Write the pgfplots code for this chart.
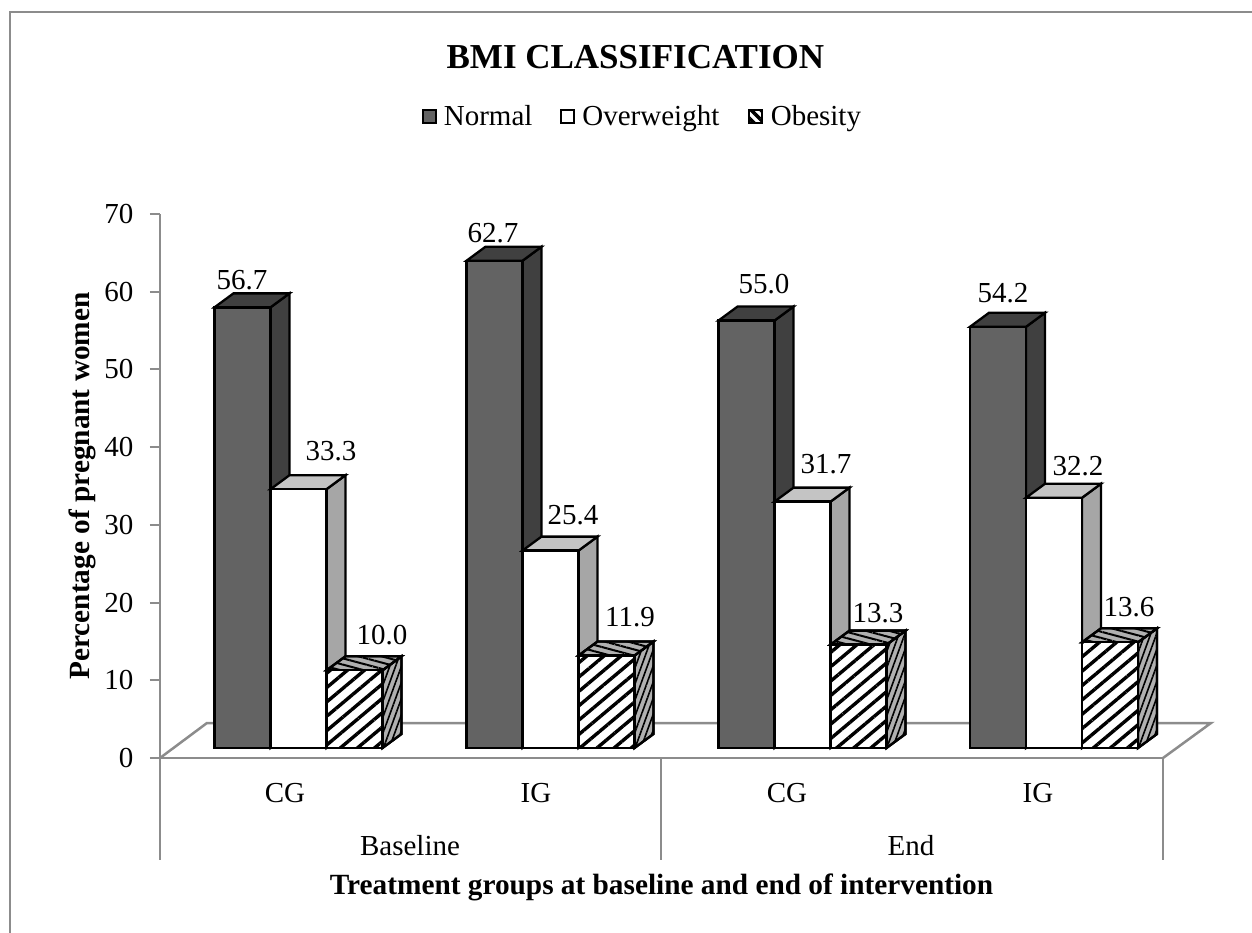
\documentclass[border=0pt]{standalone}
\usepackage{fontspec}
\setmainfont{Liberation Serif}
\usepackage{pgfplots}
\usepackage{pgfplotstable}
\pgfplotsset{compat=1.18}
\usetikzlibrary{patterns.meta}

\definecolor{axisgray}{HTML}{8C8C8C}
\definecolor{normalfront}{HTML}{636363}
\definecolor{normalside}{HTML}{404040}
\definecolor{oversideC}{HTML}{A6A6A6}
\definecolor{overtopC}{HTML}{C4C4C4}
\definecolor{obesegray}{HTML}{B0B0B0}

\newcommand{\lbl}{\fontsize{29}{33}\selectfont}

% x = centre of each group of bars, in px of the reference
\pgfplotstableread{
x y
298.5 56.7
550.5 62.7
802.5 55.0
1054 54.2
}\normaltab
\pgfplotstableread{
x y
298.5 33.3
550.5 25.4
802.5 31.7
1054 32.2
}\overtab
\pgfplotstableread{
x y
298.5 10.0
550.5 11.9
802.5 13.3
1054 13.6
}\obesetab

% 3D look: bars stand 10px above the axis, depth 19px right and 14px up
\pgfmathsetmacro\pxy{544/70}
\pgfmathsetmacro\base{10/\pxy}
\pgfmathsetmacro\depth{14/\pxy}

\newcommand{\barfaces}[4]{%
  \pgfplotsforeachungrouped \r in {0,1,2,3}{%
    \pgfplotstablegetelem{\r}{x}\of#1\let\xc\pgfplotsretval
    \pgfplotstablegetelem{\r}{y}\of#1\let\yv\pgfplotsretval
    \pgfmathsetmacro\xl{\xc+#2-28}%
    \pgfmathsetmacro\xr{\xc+#2+28}%
    \pgfmathsetmacro\xld{\xl+19}%
    \pgfmathsetmacro\xrd{\xr+19}%
    \pgfmathsetmacro\yhi{\yv+\base}%
    \pgfmathsetmacro\yhid{\yhi+\depth}%
    \pgfmathsetmacro\ylod{\base+\depth}%
    \edef\tmp{\noexpand\addplot[forget plot,#3] coordinates {(\xr,\base)(\xrd,\ylod)(\xrd,\yhid)(\xr,\yhi)} -- cycle;}\tmp
    \edef\tmp{\noexpand\addplot[forget plot,#4] coordinates {(\xl,\yhi)(\xr,\yhi)(\xrd,\yhid)(\xld,\yhid)} -- cycle;}\tmp
  }%
}
\newcommand{\vlab}[3]{\node[font=\lbl] at (axis cs:#1,{(758-#2)/\pxy}) {#3};}

\begin{document}
\begin{tikzpicture}
\useasboundingbox (-160pt,-175pt) rectangle (1092pt,758pt);
\draw[axisgray,line width=2pt] (-150pt,-175pt) -- (-150pt,746pt) -- (1092pt,746pt);
\begin{axis}[
    scale only axis,
    width=1003pt, height=544pt,
    xmin=160, xmax=1163, ymin=0, ymax=70,
    clip=false,
    axis x line=bottom, axis y line=left,
    axis line style={-,axisgray,line width=2.5pt},
    ytick distance=10,
    xtick={285,536,787,1038},
    xticklabels={CG,IG,CG,IG},
    x tick style={draw=none},
    y tick style={axisgray,line width=2pt},
    tick align=outside,
    major tick length=10pt,
    tick label style={font=\lbl},
    /pgf/number format/assume math mode=true,
    x tick label style={yshift=-12pt},
    y tick label style={xshift=-13pt},
    title={BMI CLASSIFICATION},
    title style={font=\fontsize{35}{40}\selectfont\bfseries,at={(rel axis cs:0.474,1.277)},anchor=center},
    xlabel={Treatment groups at baseline and end of intervention},
    xlabel style={font=\fontsize{29.3}{33}\selectfont\bfseries,at={(rel axis cs:0.5,-0.238)},anchor=center},
    ylabel={Percentage of pregnant women},
    ylabel style={font=\fontsize{29.3}{33}\selectfont\bfseries,at={(rel axis cs:-0.077,0.5)},anchor=center},
    legend columns=3,
    legend style={draw=none,fill=none,font=\lbl,at={(rel axis cs:0.481,1.18)},anchor=center,
      /tikz/column 1/.style={column sep=5pt},
      /tikz/column 2/.style={column sep=26pt},
      /tikz/column 3/.style={column sep=5pt},
      /tikz/column 4/.style={column sep=26pt},
      /tikz/column 5/.style={column sep=5pt}},
    legend cell align=left,
    legend image code/.code={\draw[#1,line width=2pt] (0pt,-6.5pt) rectangle (13pt,6.5pt);},
    side normal/.style={fill=normalside,draw=black,line width=2.3pt},
    side over/.style={fill=oversideC,draw=black,line width=2.3pt},
    top over/.style={fill=overtopC,draw=black,line width=2.3pt},
    side obese/.style={fill=obesegray,postaction={pattern={Lines[angle=70,distance=5.5pt,line width=1.6pt]}},draw=black,line width=2.3pt},
    top obese/.style={fill=obesegray,postaction={pattern={Lines[angle=-15,distance=6pt,line width=2pt]}},draw=black,line width=2.3pt},
    front obese/.style={fill=white,postaction={pattern={Lines[angle=40,distance=11pt,line width=3.4pt]}},draw=black,line width=2.3pt},
]
% legend entries only; the bars below are forget plot
\addlegendimage{fill=normalfront,draw=black}
\addlegendentry{Normal}
\addlegendimage{fill=white,draw=black}
\addlegendentry{Overweight}
\addlegendimage{fill=white,postaction={pattern={Lines[angle=-45,distance=7pt,line width=3.5pt]}},draw=black}
\addlegendentry{Obesity}

% floor
\draw[axisgray,line width=2.5pt] (axis cs:160,0) -- (axis cs:207,{35/\pxy}) -- (axis cs:1211,{35/\pxy}) -- (axis cs:1163,0);

% category separators
\draw[axisgray,line width=2pt] (axis cs:160,0) -- (axis cs:160,{-102/\pxy});
\draw[axisgray,line width=2pt] (axis cs:661,0) -- (axis cs:661,{-102/\pxy});
\draw[axisgray,line width=2pt] (axis cs:1163,0) -- (axis cs:1163,{-102/\pxy});
\node[font=\lbl] at (axis cs:410,{-88/\pxy}) {Baseline};
\node[font=\lbl] at (axis cs:911,{-88/\pxy}) {End};

% Normal
\barfaces{\normaltab}{-56}{side normal}{side normal}
\addplot[forget plot,ybar,bar width=56pt,bar shift=-56pt,shift={(0pt,10pt)},fill=normalfront,draw=black,line width=2.3pt] table[x=x,y=y] {\normaltab};
% Overweight
\barfaces{\overtab}{0}{side over}{top over}
\addplot[forget plot,ybar,bar width=56pt,bar shift=0pt,shift={(0pt,10pt)},fill=white,draw=black,line width=2.3pt] table[x=x,y=y] {\overtab};
% Obesity
\barfaces{\obesetab}{56}{side obese}{top obese}
\addplot[forget plot,ybar,bar width=56pt,bar shift=56pt,shift={(0pt,10pt)},front obese] table[x=x,y=y] {\obesetab};

% data labels
\vlab{242}{280}{56.7}\vlab{331}{451}{33.3}\vlab{382}{635}{10.0}
\vlab{493}{233}{62.7}\vlab{573}{515}{25.4}\vlab{630}{617}{11.9}
\vlab{764}{284}{55.0}\vlab{826}{464}{31.7}\vlab{878}{613}{13.3}
\vlab{1003}{293}{54.2}\vlab{1078}{466}{32.2}\vlab{1129}{607}{13.6}
\end{axis}
\end{tikzpicture}
\end{document}
